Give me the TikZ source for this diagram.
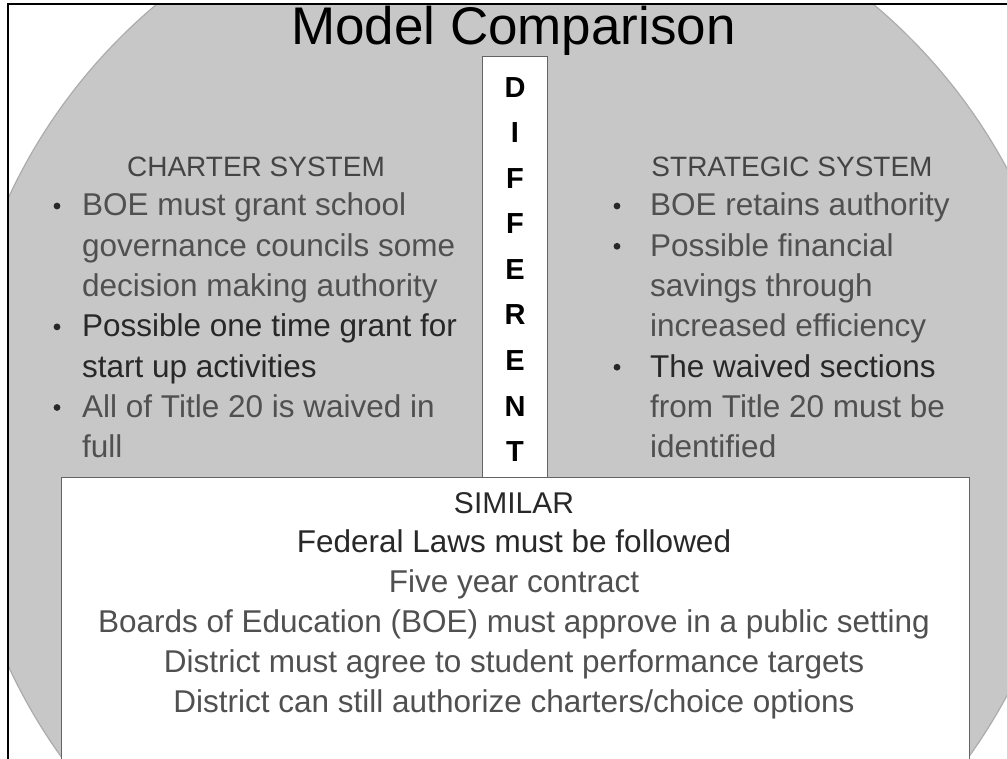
\documentclass[tikz,border=0pt]{standalone}
\usepackage{fontspec}
\setmainfont{Liberation Sans}
\definecolor{fondo}{RGB}{199,199,199}
\definecolor{tinta}{RGB}{80,80,80}
\definecolor{tintaOsc}{RGB}{40,40,40}
\definecolor{borde}{RGB}{100,100,100}

\begin{document}
\begin{tikzpicture}[x=1pt,y=-1pt]
	
	% --- parámetros ---
	\newcommand{\Ancho}{1007}
	\newcommand{\Alto}{759}
	\newcommand{\Paso}{40.3}
	\newcommand{\xIzq}{82}
	\newcommand{\xDer}{650}
	
	% --- listas (texto / color / viñeta) ---
	\def\colIzq{BOE must grant school/tinta/1,
		governance councils some/tinta/0,
		decision making authority/tinta/0,
		Possible one time grant for/tintaOsc/1,
		start up activities/tintaOsc/0,
		All of Title 20 is waived in/tinta/1,
		full/tinta/0}
	\def\colDer{BOE retains authority/tinta/1,
		Possible financial/tinta/1,
		savings through/tinta/0,
		increased efficiency/tinta/0,
		The waived sections/tintaOsc/1,
		from Title 20 must be/tinta/0,
		identified/tinta/0}
	\def\colSim{Federal Laws must be followed/tintaOsc,
		Five year contract/tinta,
		Boards of Education (BOE) must approve in a public setting/tinta,
		District must agree to student performance targets/tinta,
		District can still authorize charters\slash choice options/tinta}
	
	% estilos
	\tikzset{
		rim/.style     = {line width=2pt, black},
		panel/.style   = {fill=white, draw=borde, line width=0.9pt},
		bodytxt/.style = {anchor=base west, inner sep=0pt, text=tinta, font=\fontsize{31.5}{36}\selectfont},
		headtxt/.style = {anchor=base, inner sep=0pt, text=tinta!85!black, font=\fontsize{28}{34}\selectfont},
		simtxt/.style  = {anchor=base, inner sep=0pt, text=tinta, font=\fontsize{31.5}{36}\selectfont},
		lettr/.style   = {anchor=base, inner sep=0pt, font=\bfseries\fontsize{29}{34}\selectfont},
	}
	
	\useasboundingbox (0,0) rectangle (\Ancho,\Alto);
	
	% círculo de fondo
	\begin{scope}
		\clip (8,4.5) rectangle (\Ancho,\Alto);
		\fill[fondo, draw=gray!65, line width=1.2pt] (515,432) circle (558pt);
	\end{scope}
	
	% marco
	\draw[rim] (8,\Alto) -- (8,4.5) -- (\Ancho,4.5);
	
	% cajas blancas
	\draw[panel] (61,477) rectangle (969,\Alto+10);
	\draw[panel] (482,56) rectangle (547,477);
	
	% título
	\node[anchor=base, inner sep=0pt, font=\fontsize{53}{60}\selectfont] (title) at (513.5,45) {Model Comparison};
	
	% DIFFERENT en vertical
	\foreach \l [count=\i from 0] in {D,I,F,F,E,R,E,N,T}
		\node[lettr] (dif\i) at (515,{97.5+45.5*\i}) {\l};
	
	% columna izquierda
	\node[headtxt] (charter) at (256,177) {CHARTER SYSTEM};
	\foreach \t/\c/\b [count=\i from 0] in \colIzq {
		\pgfmathsetmacro{\yy}{216+\Paso*\i}
		\node[bodytxt, text=\c] (izq\i) at (\xIzq,\yy) {\t};
		\ifnum\b=1 \fill[tintaOsc] (57,\yy-10) circle (3.4pt); \fi
	}
	
	% columna derecha
	\node[headtxt] (strategic) at (792,177) {STRATEGIC SYSTEM};
	\foreach \t/\c/\b [count=\i from 0] in \colDer {
		\pgfmathsetmacro{\yy}{216+\Paso*\i}
		\node[bodytxt, text=\c] (der\i) at (\xDer,\yy) {\t};
		\ifnum\b=1 \fill[tintaOsc] (617,\yy-10) circle (3.4pt); \fi
	}
	
	% parte común
	\node[simtxt, text=tintaOsc, font=\fontsize{30}{36}\selectfont] (similar) at (514,513) {SIMILAR};
	\foreach \t/\c [count=\i] in \colSim
		\node[simtxt, text=\c] (sim\i) at (514,{513+39.8*\i}) {\t};
	
\end{tikzpicture}
\end{document}
